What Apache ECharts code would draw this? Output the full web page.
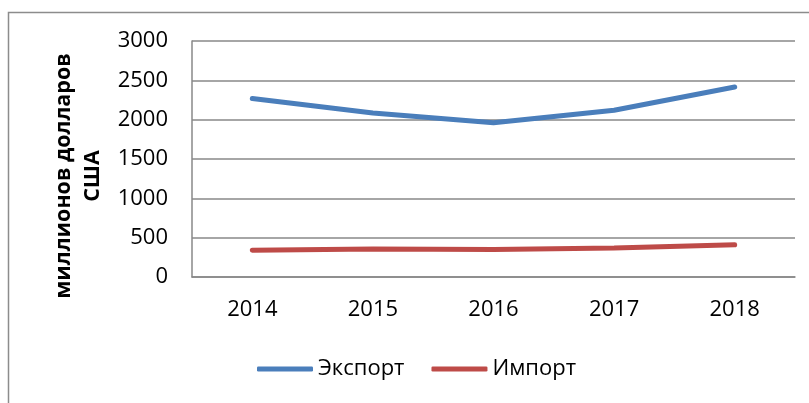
<!DOCTYPE html>
<html>
<head>
<meta charset="utf-8">
<script src="https://cdn.jsdelivr.net/npm/echarts@6/dist/echarts.min.js"></script>
<style>
  html, body { margin: 0; padding: 0; background: #fff; }
  #chart { width: 809px; height: 403px; }
</style>
</head>
<body>
<div id="chart"></div>
<script>
// годы
const years = ['2014', '2015', '2016', '2017', '2018']
// экспорт и импорт, млн долларов США
const exportVals = [2270, 2085, 1960, 2120, 2415]
const importVals = [340, 355, 350, 370, 410]
const yTicks = { min: 0, max: 3000, step: 500 }

const font = '"Open Sans", sans-serif'
const gridColor = '#888888'

const chart = echarts.init(document.getElementById('chart'))
chart.setOption({
  animation: false,
  graphic: [
    { // рамка диаграммы
      type: 'rect',
      shape: { x: 8.5, y: 12.5, width: 830, height: 430 },
      style: { fill: 'none', stroke: '#8c8c8c', lineWidth: 1.5 }
    },
    { // подпись оси Y
      type: 'text',
      x: 78,
      y: 176,
      rotation: Math.PI / 2,
      style: {
        text: 'миллионов долларов\nСША',
        font: 'bold 21.5px ' + font,
        fill: '#000',
        align: 'center',
        verticalAlign: 'middle',
        lineHeight: 29
      }
    }
  ],
  grid: { left: 192, right: 14, top: 41, bottom: 126 },
  legend: {
    data: ['Экспорт', 'Импорт'],
    left: 252,
    top: 353,
    icon: 'roundRect',
    itemWidth: 56,
    itemHeight: 5,
    itemGap: 27,
    textStyle: { fontFamily: font, fontSize: 22, color: '#000' }
  },
  xAxis: {
    type: 'category',
    data: years,
    boundaryGap: true,
    axisLine: { lineStyle: { color: gridColor, width: 1.5 } },
    axisTick: { show: false },
    axisLabel: { margin: 22, fontFamily: font, fontSize: 22, color: '#000' }
  },
  yAxis: {
    type: 'value',
    min: yTicks.min,
    max: yTicks.max,
    interval: yTicks.step,
    axisLine: { show: true, lineStyle: { color: gridColor, width: 1.5 } },
    axisTick: { show: false },
    axisLabel: { margin: 24, fontFamily: font, fontSize: 22, color: '#000', formatter: (v) => String(v) },
    splitLine: { lineStyle: { color: gridColor, width: 1.5 } }
  },
  series: [
    {
      name: 'Экспорт',
      type: 'line',
      data: exportVals,
      showSymbol: false,
      itemStyle: { color: '#4a7ebb' },
      lineStyle: { color: '#4a7ebb', width: 5, cap: 'round' }
    },
    {
      name: 'Импорт',
      type: 'line',
      data: importVals,
      showSymbol: false,
      itemStyle: { color: '#be4b48' },
      lineStyle: { color: '#be4b48', width: 5, cap: 'round' }
    }
  ]
})
</script>
</body>
</html>
